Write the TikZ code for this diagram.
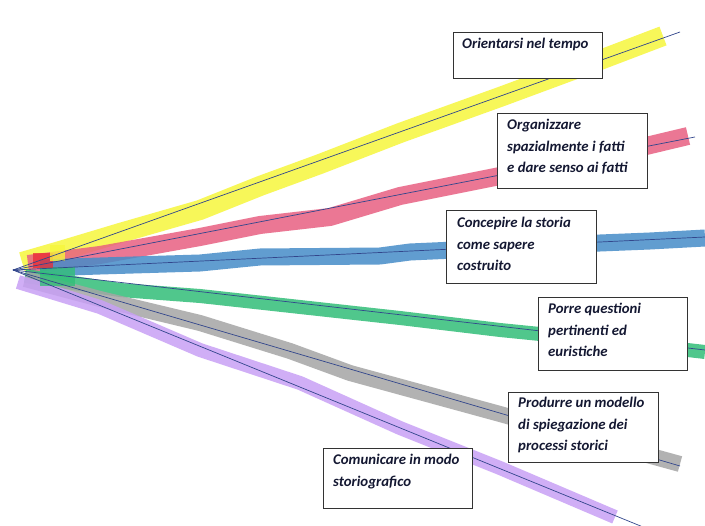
\documentclass[tikz,border=0pt]{standalone}
\usepackage{fontspec}
\setmainfont{Carlito}
\definecolor{hlYellow}{RGB}{246,246,60}
\definecolor{hlPink}{RGB}{232,96,130}
\definecolor{hlBlue}{RGB}{70,140,200}
\definecolor{hlGreen}{RGB}{50,190,120}
\definecolor{hlGray}{RGB}{165,165,165}
\definecolor{hlPurple}{RGB}{200,160,245}
\definecolor{hlRed}{RGB}{235,40,50}
\definecolor{thinLine}{RGB}{50,70,140}
\definecolor{txtNavy}{RGB}{20,24,50}
\tikzset{
  band/.style={line width=#1, line join=round, line cap=butt, opacity=0.85},
  axisline/.style={draw=thinLine, line width=0.7pt},
  labelbox/.style={draw=black!80, fill=white, line width=1pt, anchor=north west, inner sep=0pt},
  labeltext/.style={anchor=north west, inner sep=0pt, align=left, text=txtNavy,
    font=\fontsize{14.8}{21.5}\selectfont\bfseries\itshape}
}
\begin{document}
\begin{tikzpicture}[x=1pt,y=-1pt]
\useasboundingbox (0,0) rectangle (705,526);
\fill[white] (0,0) rectangle (705,526);

% highlighter bands
\draw[band=20pt, hlYellow] (22,262) -- (60,251) -- (120,233) -- (200,210) -- (260,186) -- (320,164) -- (400,133) -- (500,97) -- (600,60) -- (663,36);
\draw[band=18pt, hlPink] (28,264) -- (100,255) -- (200,237) -- (260,225) -- (330,217) -- (400,196) -- (500,176) -- (600,157) -- (688,136);
\draw[band=17pt, hlBlue] (40,268) -- (100,266) -- (200,263) -- (260,257) -- (380,256) -- (410,252) -- (500,248) -- (600,243) -- (650,241) -- (705,238);
\draw[band=14pt, hlGreen] (25,276) -- (60,281) -- (120,290) -- (200,296) -- (300,307) -- (400,318) -- (500,330) -- (600,340) -- (705,352);
\draw[band=16pt, hlGray] (25,279) -- (100,299) -- (200,323) -- (290,351) -- (350,373) -- (500,414) -- (600,442) -- (680,464);
\draw[band=14pt, hlPurple] (18,282) -- (100,307) -- (200,350) -- (300,383) -- (400,428) -- (500,468) -- (615,517);
% patches near the origin
\fill[hlGreen, opacity=0.8] (40,267) rectangle (75,286);
\fill[hlRed, opacity=0.75] (33,253) rectangle (53,268);
\fill[hlYellow, opacity=0.8] (50,245) rectangle (65,261);

% thin lines
\coordinate (o) at (13,270);
\coordinate (e1) at (680,32);
\coordinate (e2) at (695,137);
\coordinate (e3) at (705,237);
\coordinate (e4) at (705,350);
\coordinate (e5) at (680,466);
\coordinate (e6) at (643,527);
\foreach \e in {e1,e2,e3,e4,e5,e6} \draw[axisline] (o) -- (\e);

% boxes
\node[labelbox, minimum width=149pt, minimum height=46pt] (b1) at (453,32) {};
\node[labeltext] (t1) at ([shift={(9,6)}]b1.north west) {Orientarsi nel tempo};
\node[labelbox, minimum width=150pt, minimum height=75pt] (b2) at (497,113) {};
\node[labeltext] (t2) at ([shift={(10,6)}]b2.north west) {Organizzare\\spazialmente i fatti\\e dare senso ai fatti};
\node[labelbox, minimum width=150pt, minimum height=73pt] (b3) at (446,210) {};
\node[labeltext] (t3) at ([shift={(11,7)}]b3.north west) {Concepire la storia\\come sapere\\costruito};
\node[labelbox, minimum width=149pt, minimum height=73pt] (b4) at (538,297) {};
\node[labeltext] (t4) at ([shift={(10,6)}]b4.north west) {Porre questioni\\pertinenti ed\\euristiche};
\node[labelbox, minimum width=150pt, minimum height=70pt] (b5) at (508,392) {};
\node[labeltext] (t5) at ([shift={(10,5)}]b5.north west) {Produrre un modello\\di spiegazione dei\\processi storici};
\node[labelbox, minimum width=149pt, minimum height=60pt] (b6) at (323,448) {};
\node[labeltext] (t6) at ([shift={(10,6)}]b6.north west) {Comunicare in modo\\storiografico};
\end{tikzpicture}
\end{document}
